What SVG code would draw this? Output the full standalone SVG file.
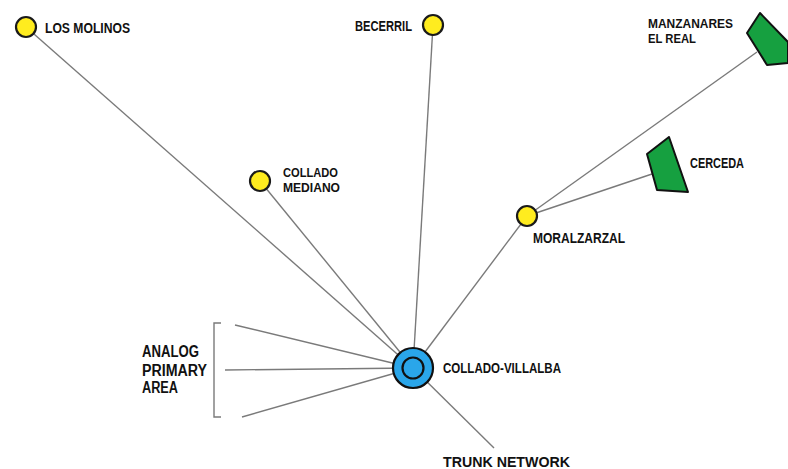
<svg xmlns="http://www.w3.org/2000/svg" width="788" height="469" viewBox="0 0 788 469">
<style>
.ln{stroke:#7a7a7a;stroke-width:1.4;fill:none}
.yel{fill:#ffec1f;stroke:#1a1a1a;stroke-width:2.2}
.grn{fill:#16a040;stroke:#111;stroke-width:2;stroke-linejoin:round}
.blu{fill:#2aa6ea;stroke:#111;stroke-width:2.2}
text{font-family:"Liberation Sans",Arial,sans-serif;font-weight:bold;font-size:14px;fill:#111}
.sm{font-size:13px}
.big{font-size:16px}
</style>
<rect width="788" height="469" fill="#fff"/>
<g id="connectors">
<line class="ln" x1="26" y1="27" x2="413" y2="368"/>
<line class="ln" x1="433" y1="25" x2="413" y2="368"/>
<line class="ln" x1="260" y1="181" x2="413" y2="368"/>
<line class="ln" x1="527" y1="216" x2="413" y2="368"/>
<line class="ln" x1="527" y1="216" x2="757" y2="52"/>
<line class="ln" x1="527" y1="216" x2="652" y2="174"/>
<line class="ln" x1="413" y1="368" x2="494" y2="448"/>
<line class="ln" x1="235" y1="325" x2="413" y2="368"/>
<line class="ln" x1="225" y1="370" x2="413" y2="368"/>
<line class="ln" x1="242" y1="417" x2="413" y2="368"/>
<path class="ln" d="M221,323 H214 V417 H221"/>
</g>
<g id="los-molinos"><circle class="yel" cx="26" cy="27" r="10"/><text x="45" y="33" textLength="85" lengthAdjust="spacingAndGlyphs">LOS MOLINOS</text></g>
<g id="becerril"><circle class="yel" cx="433" cy="25" r="10"/><text x="355" y="31" textLength="57" lengthAdjust="spacingAndGlyphs">BECERRIL</text></g>
<g id="manzanares"><polygon class="grn" points="760,13 747,33 767,65 788,63 788,42"/><text class="sm" x="648" y="28" textLength="85" lengthAdjust="spacingAndGlyphs">MANZANARES</text><text class="sm" x="648" y="43" textLength="48" lengthAdjust="spacingAndGlyphs">EL REAL</text></g>
<g id="cerceda"><polygon class="grn" points="669,137 647,154 657,190 688,192"/><text x="690" y="168" textLength="54" lengthAdjust="spacingAndGlyphs">CERCEDA</text></g>
<g id="collado-mediano"><circle class="yel" cx="260" cy="181" r="10"/><text class="sm" x="283" y="177" textLength="55" lengthAdjust="spacingAndGlyphs">COLLADO</text><text class="sm" x="283" y="192" textLength="57" lengthAdjust="spacingAndGlyphs">MEDIANO</text></g>
<g id="moralzarzal"><circle class="yel" cx="527" cy="216" r="10"/><text x="533" y="243" textLength="92" lengthAdjust="spacingAndGlyphs">MORALZARZAL</text></g>
<g id="collado-villalba"><circle class="blu" cx="413" cy="368" r="20"/><circle class="blu" cx="413" cy="368" r="10.5"/><text x="443" y="373" textLength="118" lengthAdjust="spacingAndGlyphs">COLLADO-VILLALBA</text></g>
<g id="trunk-network"><text x="443" y="467" textLength="127" lengthAdjust="spacingAndGlyphs">TRUNK NETWORK</text></g>
<g id="analog-primary-area"><text class="big" x="142" y="357" textLength="57" lengthAdjust="spacingAndGlyphs">ANALOG</text><text class="big" x="142" y="376" textLength="65" lengthAdjust="spacingAndGlyphs">PRIMARY</text><text class="big" x="142" y="393" textLength="36" lengthAdjust="spacingAndGlyphs">AREA</text></g>
</svg>
